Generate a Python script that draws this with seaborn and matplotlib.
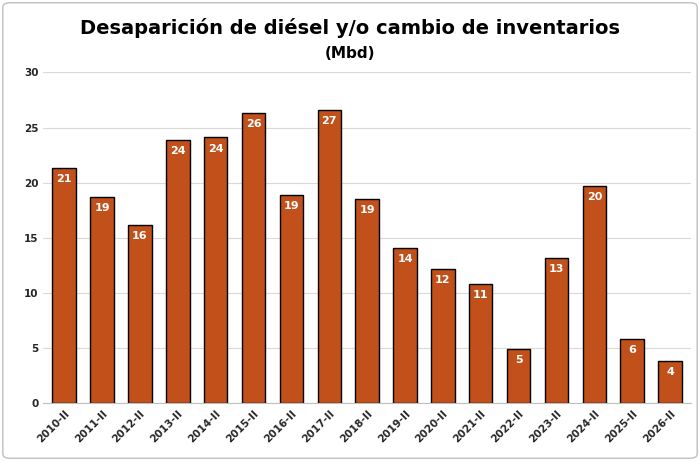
import matplotlib
matplotlib.use("Agg")
import matplotlib.pyplot as plt
import seaborn as sns
import pandas as pd
from matplotlib.patches import FancyBboxPatch

categories = ["2010-II","2011-II","2012-II","2013-II","2014-II","2015-II","2016-II","2017-II",
              "2018-II","2019-II","2020-II","2021-II","2022-II","2023-II","2024-II","2025-II","2026-II"]
values = [21.3,18.7,16.2,23.9,24.1,26.3,18.9,26.6,18.5,14.1,12.2,10.8,4.9,13.2,19.7,5.8,3.8]

df = pd.DataFrame({"cat": categories, "val": values})
sns.set_style("white")
plt.rcParams['font.family'] = ['DejaVu Sans']

fig = plt.figure(figsize=(7, 4.61), dpi=100)
ax = fig.add_axes([0.062, 0.125, 0.925, 0.718])
sns.barplot(data=df, x="cat", y="val", color="#C1501A", edgecolor="black", linewidth=1,
            width=0.62, saturation=1, ax=ax)
ax.set_ylim(0, 30)
ax.set_xlim(-0.55, len(categories) - 0.45)
ax.set_yticks(range(0, 31, 5))
ax.yaxis.grid(True, color="#D9D9D9", linewidth=0.8)
ax.set_axisbelow(True)
for s in ["top", "right", "left"]:
    ax.spines[s].set_visible(False)
ax.spines["bottom"].set_color("#BFBFBF")
ax.set_xlabel(""); ax.set_ylabel("")
ax.tick_params(axis="y", length=0, labelsize=7.5)
ax.tick_params(axis="x", length=0, labelsize=7.5)
for lab in ax.get_yticklabels() + ax.get_xticklabels():
    lab.set_fontweight("bold")
plt.setp(ax.get_xticklabels(), rotation=45, ha="right", rotation_mode="anchor")
for i, v in enumerate(values):
    ax.text(i, v - 1.0, f"{int(v + 0.5):d}", ha="center", va="center", color="white",
            fontsize=8, fontweight="bold")
fig.text(0.5, 0.94, "Desaparición de diésel y/o cambio de inventarios", ha="center",
         va="center", fontsize=14, fontweight="bold", color="black")
fig.text(0.5, 0.885, "(Mbd)", ha="center", va="center", fontsize=11, fontweight="bold", color="black")
fig.patches.append(FancyBboxPatch((0.004, 0.006), 0.992, 0.988, boxstyle="round,pad=0,rounding_size=0.01",
                                  transform=fig.transFigure, fill=False, edgecolor="#BFBFBF", linewidth=1))
fig.savefig("out.png", dpi=100)
